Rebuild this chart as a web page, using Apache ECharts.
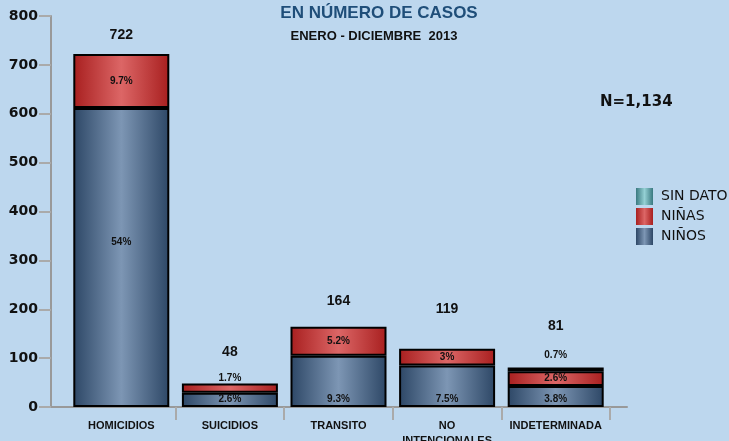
<!DOCTYPE html>
<html>
<head>
<meta charset="utf-8">
<script src="https://cdn.jsdelivr.net/npm/echarts@6/dist/echarts.min.js"></script>
<style>
  html, body { margin: 0; padding: 0; background: #bdd7ee; }
  #chart { width: 729px; height: 441px; }
</style>
</head>
<body>
<div id="chart"></div>
<script>
const categories = ['HOMICIDIOS', 'SUICIDIOS', 'TRANSITO', 'NO\nINTENCIONALES', 'INDETERMINADA'];
const ninos = [612, 29, 105, 85, 43];
const ninas = [110, 19, 59, 34, 30];
const sinDato = [0, 0, 0, 0, 8];
const totals = [722, 48, 164, 119, 81];
const yTicks = [0, 100, 200, 300, 400, 500, 600, 700, 800];
const N = 1134;

function pct(v) {
    const r = Math.round(v / N * 1000) / 10;
    return String(r) + '%';
}

function grad(edge, mid) {
    return new echarts.graphic.LinearGradient(0, 0, 1, 0, [
        { offset: 0, color: edge }, { offset: 0.5, color: mid }, { offset: 1, color: edge }
    ]);
}

const labelFont = { color: '#111', fontSize: 10, fontWeight: 'bold', fontFamily: 'Liberation Sans, Arial' };
// gap between each bar top and its total label (the source chart places them by hand)
const totalGap = [12, 24, 19, 33, 34];

document.addEventListener('DOMContentLoaded', () => {
    const chart = echarts.init(document.getElementById('chart'));
    const yMax = yTicks[yTicks.length - 1];
    const option = {
        backgroundColor: '#bdd7ee',
        animation: false,
        title: [
            { text: 'EN NÚMERO DE CASOS', left: 374, top: 0, textAlign: 'center',
              textStyle: { color: '#1f4e79', fontSize: 17, fontWeight: 'bold', fontFamily: 'Liberation Sans, Arial' } },
            { text: 'ENERO - DICIEMBRE  2013', left: 369, top: 25, textAlign: 'center',
              textStyle: { color: '#111', fontSize: 13, fontWeight: 'bold', fontFamily: 'Liberation Sans, Arial' } },
            { text: 'N=1,134', left: 595, top: 90,
              textStyle: { color: '#111', fontSize: 15, fontWeight: 'bold', fontFamily: 'DejaVu Sans, Verdana' } }
        ],
        legend: {
            orient: 'vertical', left: 636, top: 188, padding: 0,
            itemWidth: 17, itemHeight: 17, itemGap: 3, icon: 'rect',
            itemStyle: { borderWidth: 0 },
            data: ['SIN DATO', 'NIÑAS', 'NIÑOS'],
            textStyle: { color: '#111', fontSize: 14, lineHeight: 17, fontFamily: 'DejaVu Sans, Verdana', padding: [0, 0, 0, 3] }
        },
        grid: [
            { left: 51, right: 102, top: 16, bottom: 34, outerBoundsMode: 'none' },
            { left: 67, right: 119, top: 16, bottom: 34, outerBoundsMode: 'none' }
        ],
        xAxis: [
            {
                type: 'value', gridIndex: 0, min: 0, max: 1,
                axisLine: { show: true, lineStyle: { color: '#999', width: 2 } },
                axisTick: { show: false }, axisLabel: { show: false }, splitLine: { show: false }
            },
            {
                type: 'category', gridIndex: 1, data: categories,
                axisLine: { show: false },
                axisTick: { show: true, length: 13, interval: (i) => i > 0 && i < categories.length, lineStyle: { color: '#aaa', width: 2 } },
                axisLabel: { interval: 0, color: '#111', fontSize: 11, fontWeight: 'bold', fontFamily: 'Liberation Sans, Arial', margin: 11, lineHeight: 15 }
            }
        ],
        yAxis: [
            {
                type: 'value', gridIndex: 0, min: 0, max: yMax, interval: 100,
                splitLine: { show: false },
                axisLine: { show: true, lineStyle: { color: '#999', width: 2 } },
                axisTick: { show: true, length: 12, lineStyle: { color: '#aaa', width: 2 } },
                axisLabel: { color: '#111', fontSize: 14, fontWeight: 'bold', fontFamily: 'DejaVu Sans, Verdana', margin: 13 }
            },
            {
                type: 'value', gridIndex: 1, min: 0, max: yMax, interval: 100, show: false
            }
        ],
        series: [
            {
                name: 'TOTAL', type: 'bar', xAxisIndex: 1, yAxisIndex: 1, barWidth: 96, z: 1, silent: true,
                data: totals.map((v, i) => ({ value: v, label: { distance: totalGap[i] } })),
                itemStyle: { color: 'rgba(0,0,0,0)' },
                label: { show: true, position: 'top',
                         color: '#111', fontSize: 14, fontWeight: 'bold', fontFamily: 'Liberation Sans, Arial' }
            },
            {
                name: 'NIÑOS', type: 'bar', stack: 'a', xAxisIndex: 1, yAxisIndex: 1, barWidth: 96, barGap: '-100%', z: 2,
                data: ninos.map(v => ({
                    value: v,
                    label: v / N > 0.2
                        ? { position: 'inside', offset: [0, -15] }
                        : { position: 'insideBottom', distance: 3 }
                })),
                itemStyle: { color: grad('#2d4766', '#7d96b4'), borderColor: '#000', borderWidth: 2 },
                label: Object.assign({ show: true, formatter: p => pct(p.value) }, labelFont)
            },
            {
                name: 'NIÑAS', type: 'bar', stack: 'a', xAxisIndex: 1, yAxisIndex: 1, barWidth: 96, z: 2,
                data: ninas.map((v, i) => ({
                    value: v,
                    label: v < 25 && sinDato[i] === 0 ? { position: 'top', distance: 0 } : { position: 'inside' }
                })),
                itemStyle: { color: grad('#a81f1f', '#dc6666'), borderColor: '#000', borderWidth: 2 },
                label: Object.assign({ show: true, formatter: p => pct(p.value) }, labelFont)
            },
            {
                name: 'SIN DATO', type: 'bar', stack: 'a', xAxisIndex: 1, yAxisIndex: 1, barWidth: 96, z: 2,
                data: sinDato.map(v => v === 0 ? '-' : v),
                itemStyle: { color: grad('#3a7980', '#94d0d4'), borderColor: '#000', borderWidth: 2 },
                label: Object.assign({ show: true, position: 'top', distance: 7, formatter: p => pct(p.value) }, labelFont)
            }
        ]
    };
    chart.setOption(option);
    window.addEventListener('resize', () => chart.resize());
});
</script>
</body>
</html>
